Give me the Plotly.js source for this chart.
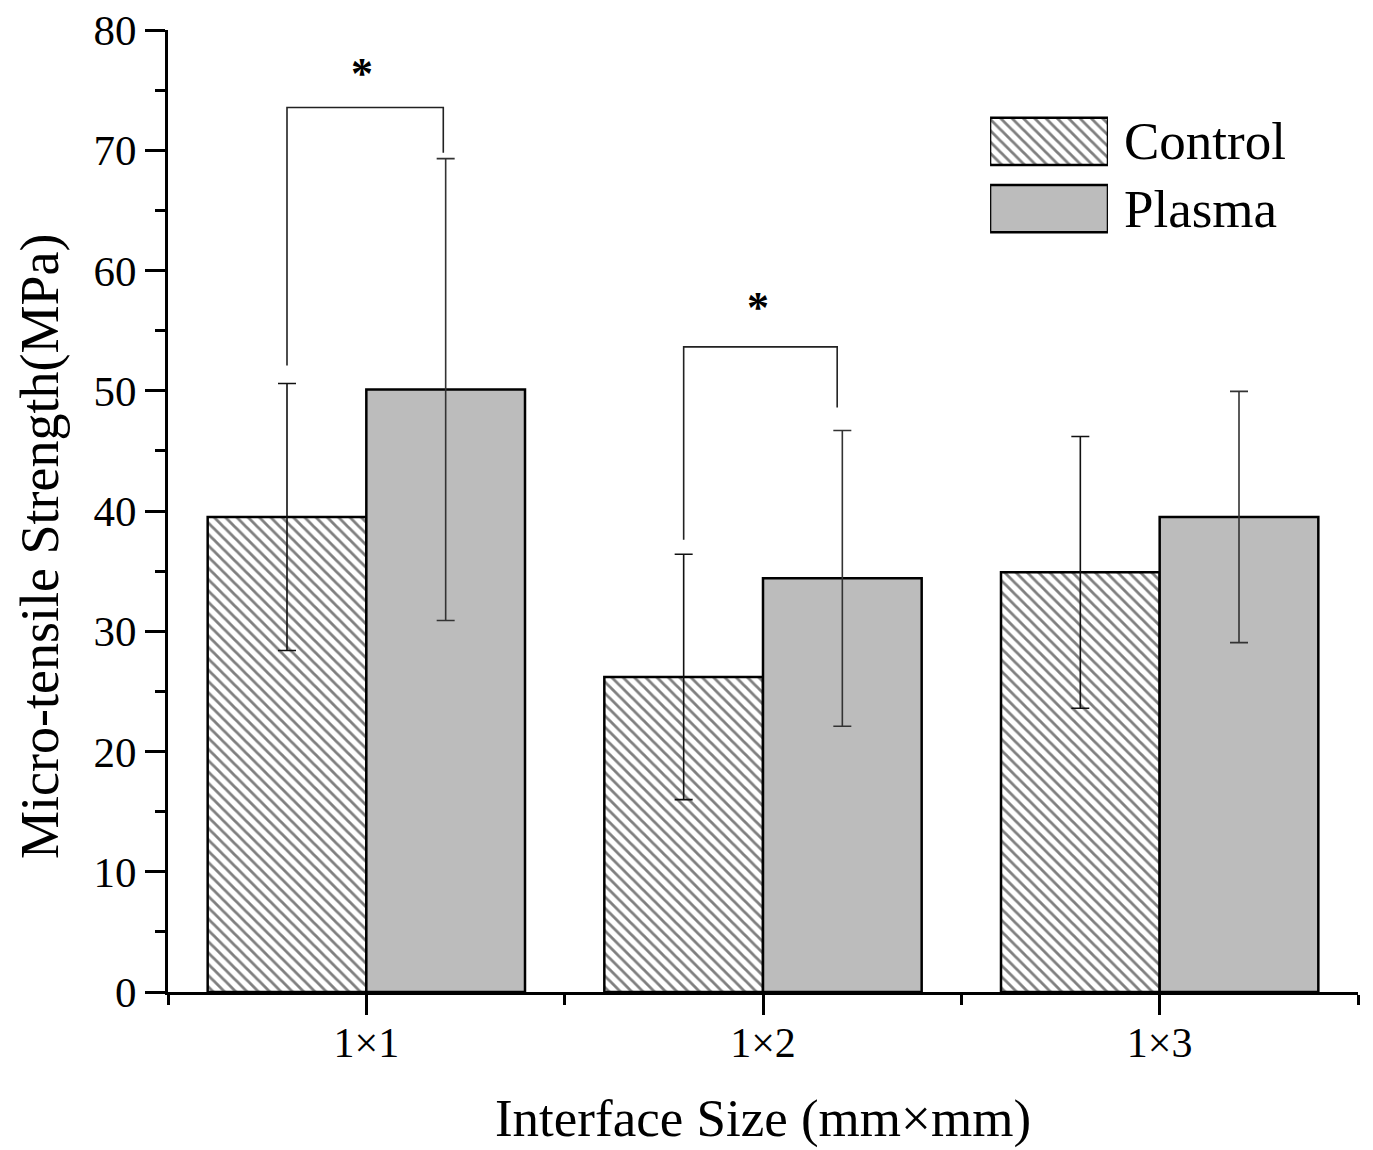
<!DOCTYPE html>
<html>
<head>
<meta charset="utf-8">
<script src="https://cdn.plot.ly/plotly-3.0.1.min.js"></script>
<style>
  html, body { margin: 0; padding: 0; background: #fff; }
  #chart { width: 1373px; height: 1150px; }
</style>
</head>
<body>
<div id="chart"></div>
<script>
// ---- data ----
const categories = ['1×1', '1×2', '1×3'];
const seriesNames = ['Control', 'Plasma'];
const controlMean = [39.5, 26.2, 34.9];
const controlErr  = [11.1, 10.2, 11.3];
const plasmaMean  = [50.1, 34.4, 39.5];
const plasmaErr   = [19.2, 12.3, 10.45];

// significance brackets (x in category-index units, y in MPa)
const sigLeftX    = [-0.2, 0.8];
const sigRightX   = [0.194, 1.187];
const sigTopY     = [73.55, 53.65];
const sigLeftEndY = [52.1, 37.6];
const sigRightEndY= [69.8, 48.6];
const sigStarX    = [-0.01, 0.987];
const sigStarY    = [76.35, 56.9];
const sigLabel    = ['*', '*'];

const yTicks = [0, 10, 20, 30, 40, 50, 60, 70, 80];
const xTitle = 'Interface Size (mm×mm)';
const yTitle = 'Micro-tensile Strength(MPa)';

// ---- build ----
const FONT = 'Liberation Serif, Times New Roman, serif';
const xIdx = categories.map((c, i) => i);
const hatch = { shape: '\\', size: 8, solidity: 0.35, fgcolor: 'black', bgcolor: 'white', fillmode: 'overlay' };

const control = {
  type: 'bar', name: seriesNames[0], x: xIdx, y: controlMean,
  marker: { color: 'white', line: { color: 'black', width: 2.5 }, pattern: hatch },
  error_y: { type: 'data', array: controlErr, visible: true, color: '#111', thickness: 1.6, width: 9 },
  showlegend: false, hoverinfo: 'skip'
};
const plasma = {
  type: 'bar', name: seriesNames[1], x: xIdx, y: plasmaMean,
  marker: { color: '#bcbcbc', line: { color: 'black', width: 2.5 } },
  error_y: { type: 'data', array: plasmaErr, visible: true, color: '#333', thickness: 1.6, width: 9 },
  showlegend: false, hoverinfo: 'skip'
};

// legend swatches drawn as a tiny horizontal bar chart on its own hidden axes
const legendSwatchCtrl = {
  type: 'bar', orientation: 'h', x: [1], y: [seriesNames[0]], xaxis: 'x2', yaxis: 'y2',
  width: 0.7,
  marker: { color: 'white', line: { color: 'black', width: 2.5 }, pattern: hatch },
  showlegend: false, hoverinfo: 'skip'
};
const legendSwatchPlasma = {
  type: 'bar', orientation: 'h', x: [1], y: [seriesNames[1]], xaxis: 'x2', yaxis: 'y2',
  width: 0.7,
  marker: { color: '#bcbcbc', line: { color: 'black', width: 2.5 } },
  showlegend: false, hoverinfo: 'skip'
};

const shapes = [];
const annotations = [];
for (let i = 0; i < sigLeftX.length; i++) {
  shapes.push({
    type: 'path', xref: 'x', yref: 'y',
    path: `M${sigLeftX[i]},${sigLeftEndY[i]} L${sigLeftX[i]},${sigTopY[i]} L${sigRightX[i]},${sigTopY[i]} L${sigRightX[i]},${sigRightEndY[i]}`,
    line: { color: '#222', width: 1.6 }
  });
  annotations.push({
    x: sigStarX[i], y: sigStarY[i], xref: 'x', yref: 'y', text: '<b>' + sigLabel[i] + '</b>',
    showarrow: false, xanchor: 'center', yanchor: 'middle',
    font: { family: FONT, size: 44, color: 'black' }
  });
}
// legend labels
seriesNames.forEach((n) => {
  annotations.push({
    x: 0, y: n, xref: 'x2 domain', yref: 'y2', text: n, showarrow: false,
    xanchor: 'left', yanchor: 'middle', xshift: 132,
    font: { family: FONT, size: 53, color: 'black' }
  });
});
// y axis title
annotations.push({
  x: -0.1076, y: 0.4636, xref: 'paper', yref: 'paper', text: yTitle, textangle: -90,
  showarrow: false, xanchor: 'center', yanchor: 'middle',
  font: { family: FONT, size: 54, color: 'black' }
});

const layout = {
  width: 1373, height: 1150,
  margin: { l: 168, r: 15, t: 30, b: 158 },
  paper_bgcolor: 'white', plot_bgcolor: 'white',
  barmode: 'group', bargap: 0.2, bargroupgap: 0,
  showlegend: false,
  font: { family: FONT, color: 'black' },
  xaxis: {
    range: [-0.5, 2.5], tickmode: 'array', tickvals: xIdx, ticktext: categories,
    ticks: 'outside', ticklen: 20, tickwidth: 3, tickcolor: 'black', ticklabelstandoff: -8,
    showline: true, linewidth: 3, linecolor: 'black', showgrid: false, zeroline: false,
    tickfont: { family: FONT, size: 42, color: 'black' },
    minor: { tickmode: 'array', tickvals: [-0.5, 0.5, 1.5, 2.5], ticks: 'outside', ticklen: 10, tickwidth: 3, tickcolor: 'black' },
    title: { text: xTitle, font: { family: FONT, size: 53, color: 'black' }, standoff: 34 },
    fixedrange: true
  },
  yaxis: {
    range: [0, 80], tickmode: 'array', tickvals: yTicks,
    ticks: 'outside', ticklen: 20, tickwidth: 3, tickcolor: 'black',
    showline: true, linewidth: 3, linecolor: 'black', showgrid: false, zeroline: false,
    tickfont: { family: FONT, size: 43, color: 'black' },
    minor: { dtick: 5, tick0: 0, ticks: 'outside', ticklen: 10, tickwidth: 3, tickcolor: 'black' },
    fixedrange: true
  },
  xaxis2: { domain: [0.6908, 0.7899], range: [0, 1], visible: false, fixedrange: true, anchor: 'y2' },
  yaxis2: { domain: [0.7794, 0.9192], range: [1.5, -0.5], type: 'category', categoryorder: 'array', categoryarray: seriesNames, autorange: false, visible: false, fixedrange: true, anchor: 'x2' },
  shapes: shapes,
  annotations: annotations
};

Plotly.newPlot('chart', [control, plasma, legendSwatchCtrl, legendSwatchPlasma], layout, { displayModeBar: false, staticPlot: true });
</script>
</body>
</html>
